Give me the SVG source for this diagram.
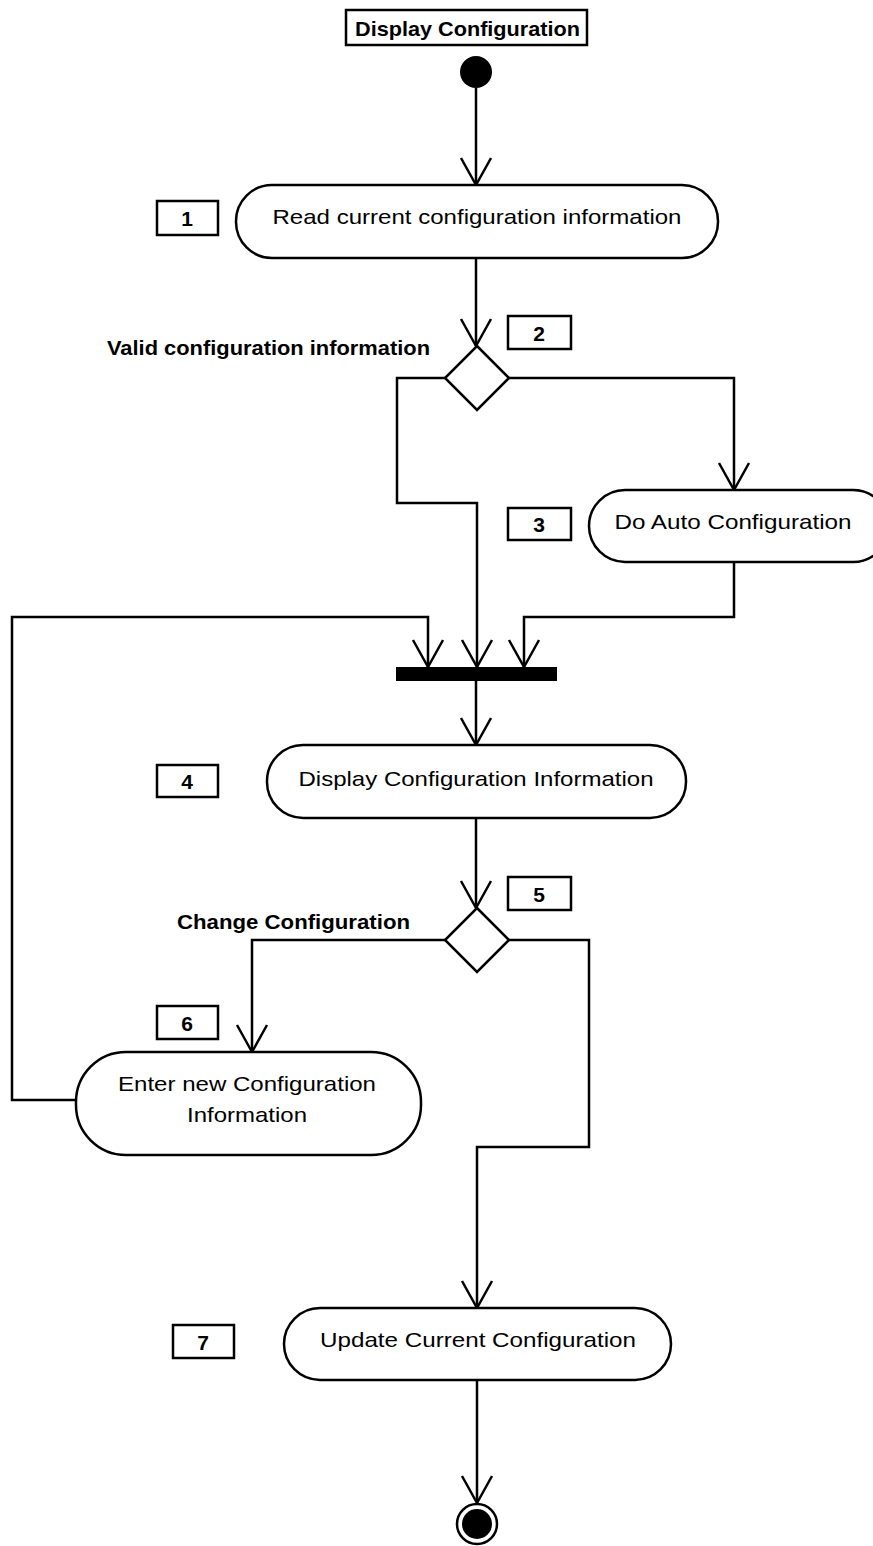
<svg xmlns="http://www.w3.org/2000/svg" width="873" height="1546" viewBox="0 0 873 1546">
  <defs>
    <marker id="arrow" markerUnits="userSpaceOnUse" markerWidth="34" markerHeight="34" viewBox="-30 -17 34 34" refX="0" refY="0" orient="auto">
      <path d="M-27,-15 L0,0 L-27,15" fill="none" stroke="#000" stroke-width="2.5"/>
    </marker>
  </defs>
  <style>
    .act { fill: #fff; stroke: #000; stroke-width: 2.5; }
    .num { fill: #fff; stroke: #000; stroke-width: 2.5; }
    .flow { fill: none; stroke: #000; stroke-width: 2.5; }
    .t { font-family: "Liberation Sans", Arial, sans-serif; font-size: 21px; fill: #000; text-anchor: middle; }
    .b { font-family: "Liberation Sans", Arial, sans-serif; font-size: 21px; fill: #000; font-weight: bold; }
    .n { font-family: "Liberation Sans", Arial, sans-serif; font-size: 21px; fill: #000; font-weight: bold; text-anchor: middle; }
  </style>
  <rect width="873" height="1546" fill="#fff"/>

  <g id="title">
    <rect x="346" y="10" width="241" height="35" fill="#fff" stroke="#000" stroke-width="2.5"/>
    <text class="b" x="355" y="36" textLength="225" lengthAdjust="spacingAndGlyphs">Display Configuration</text>
  </g>

  <g id="connectors">
    <path class="flow" d="M476,88 V185" marker-end="url(#arrow)"/>
    <path class="flow" d="M476,258 V346" marker-end="url(#arrow)"/>
    <path class="flow" d="M445,378 H397 V503 H477 V667" marker-end="url(#arrow)"/>
    <path class="flow" d="M509,378 H734 V490" marker-end="url(#arrow)"/>
    <path class="flow" d="M734,562 V617 H524 V667" marker-end="url(#arrow)"/>
    <path class="flow" d="M76,1100 H12 V617 H428 V667" marker-end="url(#arrow)"/>
    <path class="flow" d="M476,681 V745" marker-end="url(#arrow)"/>
    <path class="flow" d="M476,818 V908" marker-end="url(#arrow)"/>
    <path class="flow" d="M445,940 H252 V1052" marker-end="url(#arrow)"/>
    <path class="flow" d="M509,940 H589 V1147 H477 V1308" marker-end="url(#arrow)"/>
    <path class="flow" d="M477,1380 V1503" marker-end="url(#arrow)"/>
  </g>

  <g id="start">
    <circle cx="476" cy="72" r="16" fill="#000"/>
  </g>

  <g id="node1">
    <rect class="act" x="236" y="185" width="482" height="73" rx="36" ry="36"/>
    <text class="t" x="477" y="224" textLength="409" lengthAdjust="spacingAndGlyphs">Read current configuration information</text>
  </g>
  <g id="label1">
    <rect class="num" x="157" y="201" width="61" height="34"/>
    <text class="n" x="187" y="226">1</text>
  </g>

  <g id="decision1">
    <polygon points="477,346 509,378 477,410 445,378" fill="#fff" stroke="#000" stroke-width="2.5"/>
    <text class="b" x="107" y="355" textLength="323" lengthAdjust="spacingAndGlyphs">Valid configuration information</text>
  </g>
  <g id="label2">
    <rect class="num" x="508" y="316" width="63" height="33"/>
    <text class="n" x="539" y="341">2</text>
  </g>

  <g id="node3">
    <rect class="act" x="589" y="490" width="300" height="72" rx="36" ry="36"/>
    <text class="t" x="733" y="529" textLength="237" lengthAdjust="spacingAndGlyphs">Do Auto Configuration</text>
  </g>
  <g id="label3">
    <rect class="num" x="508" y="508" width="63" height="32"/>
    <text class="n" x="539" y="532">3</text>
  </g>

  <g id="join">
    <rect x="396" y="667" width="161" height="14" fill="#000"/>
  </g>

  <g id="node4">
    <rect class="act" x="267" y="745" width="419" height="73" rx="36" ry="36"/>
    <text class="t" x="476" y="786" textLength="355" lengthAdjust="spacingAndGlyphs">Display Configuration Information</text>
  </g>
  <g id="label4">
    <rect class="num" x="157" y="765" width="61" height="32"/>
    <text class="n" x="187" y="789">4</text>
  </g>

  <g id="decision2">
    <polygon points="477,908 509,940 477,972 445,940" fill="#fff" stroke="#000" stroke-width="2.5"/>
    <text class="b" x="177" y="929" textLength="233" lengthAdjust="spacingAndGlyphs">Change Configuration</text>
  </g>
  <g id="label5">
    <rect class="num" x="508" y="877" width="63" height="33"/>
    <text class="n" x="539" y="902">5</text>
  </g>

  <g id="node6">
    <rect class="act" x="76" y="1052" width="345" height="103" rx="50" ry="50"/>
    <text class="t" x="247" y="1091" textLength="258" lengthAdjust="spacingAndGlyphs">Enter new Configuration</text>
    <text class="t" x="247" y="1122" textLength="120" lengthAdjust="spacingAndGlyphs">Information</text>
  </g>
  <g id="label6">
    <rect class="num" x="157" y="1006" width="61" height="33"/>
    <text class="n" x="187" y="1031">6</text>
  </g>

  <g id="node7">
    <rect class="act" x="284" y="1308" width="387" height="72" rx="36" ry="36"/>
    <text class="t" x="478" y="1347" textLength="316" lengthAdjust="spacingAndGlyphs">Update Current Configuration</text>
  </g>
  <g id="label7">
    <rect class="num" x="173" y="1325" width="61" height="33"/>
    <text class="n" x="203" y="1350">7</text>
  </g>

  <g id="end">
    <circle cx="477" cy="1524" r="20" fill="#fff" stroke="#000" stroke-width="2.5"/>
    <circle cx="477" cy="1524" r="15" fill="#000"/>
  </g>
</svg>
